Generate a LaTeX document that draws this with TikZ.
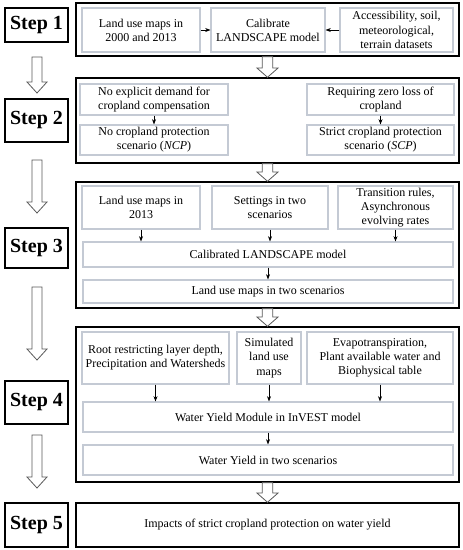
\documentclass[tikz,border=0pt]{standalone}
\usepackage{fontspec}
\setmainfont{Liberation Serif}
\usepackage{xcolor}
\usetikzlibrary{arrows.meta,calc}

\definecolor{boxline}{RGB}{196,202,212}

% hollow block arrow: from, to, half shaft, half head, head length
\newcommand\hollowarr[5]{%
  \draw[hollow] let \p1=(#1), \p2=(#2) in
    (\x1-#3,\y1) -- (\x1-#3,\y2+#5) -- (\x1-#4,\y2+#5) -- (\x1,\y2)
    -- (\x1+#4,\y2+#5) -- (\x1+#3,\y2+#5) -- (\x1+#3,\y1) -- cycle;}

\begin{document}
\begin{tikzpicture}[x=0.75pt, y=-0.75pt,
  span/.style n args={4}{at={({(#1+#3)/2},{(#2+#4)/2})},
                         minimum width={(#3-#1)*0.75pt},
                         minimum height={(#4-#2)*0.75pt}},
  frame/.style={draw, line width=1.1pt, inner sep=0pt, align=center},
  stepbox/.style={frame, font=\fontsize{15}{18}\selectfont\bfseries},
  inbox/.style={draw=boxline, line width=0.8pt, inner sep=0pt,
                align=center, font=\fontsize{9}{10.6}\selectfont},
  arr/.style={-{Stealth[length=4pt,width=3pt]}, line width=0.5pt},
  hollow/.style={draw=black!65, line width=0.6pt, fill=white}
]
\useasboundingbox (0,0) rectangle (463,550);

% ── Step labels ──
\node[stepbox, span={5}{8}{68}{42}]    (s1) {Step 1};
\node[stepbox, span={5}{99}{68}{142}]  (s2) {Step 2};
\node[stepbox, span={5}{228}{68}{268}] (s3) {Step 3};
\node[stepbox, span={5}{381}{68}{424}] (s4) {Step 4};
\node[stepbox, span={5}{503}{68}{547}] (s5) {Step 5};

% ── Frames ──
\node[frame, span={76}{3}{459}{56}]    (f1) {};
\node[frame, span={76}{78}{459}{163}]  (f2) {};
\node[frame, span={76}{182}{459}{308}] (f3) {};
\node[frame, span={76}{327}{459}{482}] (f4) {};
\node[frame, span={76}{503}{459}{547}, font=\fontsize{9}{10.6}\selectfont] (f5)
     {Impacts of strict cropland protection on water yield};

% ── Step 1 ──
\node[inbox, span={82}{8}{200}{52}]  (maps) {Land use maps in\\2000 and 2013};
\node[inbox, span={211}{8}{325}{52}] (calib) {Calibrate\\LANDSCAPE model};
\node[inbox, span={340}{8}{453}{52}] (data)
     {Accessibility, soil,\\meteorological,\\terrain datasets};
\draw[arr] (maps) -- (calib);
\draw[arr] (data) -- (calib);

% ── Step 2 ──
\node[inbox, span={80}{84}{228}{115}]   (nodem) {No explicit demand for\\cropland compensation};
\node[inbox, span={80}{125}{228}{155}]  (ncp) {No cropland protection\\scenario (\textit{NCP})};
\node[inbox, span={307}{84}{454}{115}]  (zero) {Requiring zero loss of\\cropland};
\node[inbox, span={307}{125}{454}{155}] (scp) {Strict cropland protection\\scenario (\textit{SCP})};
\draw[arr] (nodem) -- (ncp);
\draw[arr] (zero) -- (scp);

% ── Step 3 ──
\node[inbox, span={82}{186}{200}{229}]  (maps13) {Land use maps in\\2013};
\node[inbox, span={212}{186}{328}{229}] (sett) {Settings in two\\scenarios};
\node[inbox, span={338}{186}{453}{229}] (rules)
     {Transition rules,\\Asynchronous\\evolving rates};
\node[inbox, span={83}{242}{453}{267}]  (calmod) {Calibrated LANDSCAPE model};
\node[inbox, span={83}{280}{453}{303}]  (lumaps) {Land use maps in two scenarios};
\draw[arr] (maps13.south) -- (maps13.south |- calmod.north);
\draw[arr] (sett.south) -- (sett.south |- calmod.north);
\draw[arr] (rules.south) -- (rules.south |- calmod.north);
\draw[arr] (calmod) -- (lumaps);

% ── Step 4 ──
\node[inbox, span={82}{332}{229}{384}]  (root)
     {Root restricting layer depth,\\Precipitation and Watersheds};
\node[inbox, span={237}{332}{301}{384}] (sim) {Simulated\\land use\\maps};
\node[inbox, span={307}{332}{453}{384}] (evapo)
     {Evapotranspiration,\\Plant available water and\\Biophysical table};
\node[inbox, span={83}{402}{453}{432}]  (wym) {Water Yield Module in InVEST model};
\node[inbox, span={83}{445}{453}{475}]  (wy) {Water Yield in two scenarios};
\draw[arr] (root.south) -- (root.south |- wym.north);
\draw[arr] (sim.south) -- (sim.south |- wym.north);
\draw[arr] (evapo.south) -- (evapo.south |- wym.north);
\draw[arr] (wym) -- (wy);

% ── Hollow arrows between frames ──
\hollowarr{f1.south}{f2.north}{4pt}{8pt}{7pt}
\hollowarr{f2.south}{f3.north}{4pt}{8pt}{7pt}
\hollowarr{f3.south}{f4.north}{4pt}{8pt}{7pt}
\hollowarr{f4.south}{f5.north}{4pt}{8pt}{7pt}

% ── Hollow arrows between steps ──
\coordinate (a1t) at (37,57);  \coordinate (a1b) at (37,93);
\coordinate (a2t) at (37,160); \coordinate (a2b) at (37,213);
\coordinate (a3t) at (37,287); \coordinate (a3b) at (37,360);
\coordinate (a4t) at (37,435); \coordinate (a4b) at (37,488);
\hollowarr{a1t}{a1b}{3.75pt}{7.5pt}{8.25pt}
\hollowarr{a2t}{a2b}{3.75pt}{7.5pt}{8.25pt}
\hollowarr{a3t}{a3b}{3.75pt}{7.5pt}{8.25pt}
\hollowarr{a4t}{a4b}{3.75pt}{7.5pt}{8.25pt}

\end{tikzpicture}
\end{document}
